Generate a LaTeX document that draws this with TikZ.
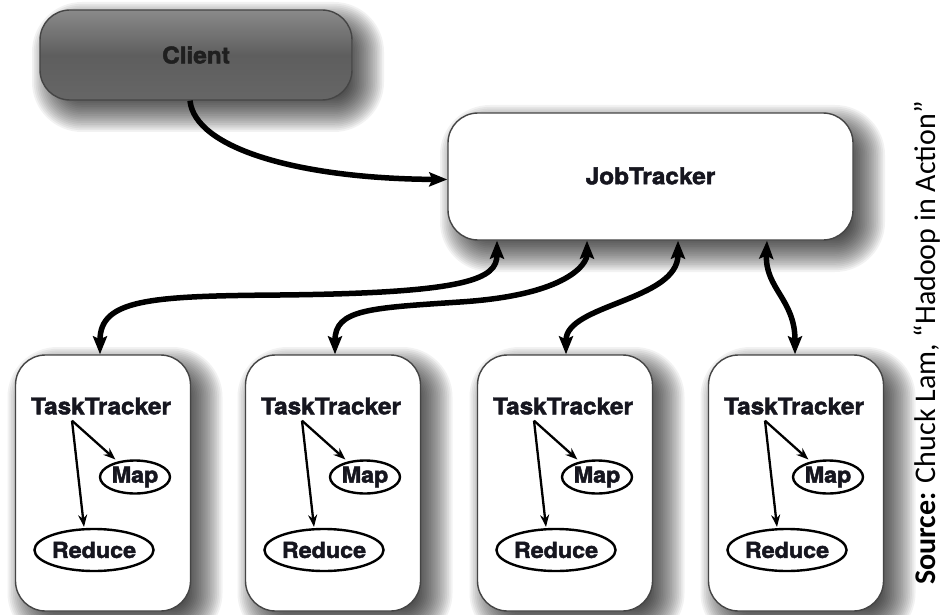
\documentclass[tikz,border=0pt]{standalone}
\usepackage{fontspec}
\setmainfont{Carlito}
\newfontfamily\heavy[FakeStretch=1.06,FakeBold=2]{TeX Gyre Heros}
\usetikzlibrary{arrows.meta,shapes.geometric}
\definecolor{ink}{HTML}{16161F}
\definecolor{edge}{HTML}{454545}
\definecolor{cltop}{HTML}{8A8A8A}
\definecolor{clmid}{HTML}{5E5E5E}
\definecolor{clbot}{HTML}{666666}
\newcommand\softshadow[4]{%
  \foreach \k in {0,...,21}{%
    \pgfmathsetmacro\ee{20-1.8*\k}%
    \pgfmathsetmacro\rr{max(30+\ee,4)}%
    \fill[black,opacity=0.05,rounded corners=\rr pt]
      (#1+12-\ee,#2+12-\ee) rectangle (#3+12+\ee,#4+12+\ee);
  }}
\tikzset{
  box/.style={draw=edge,line width=1.4pt,rounded corners=30pt,fill=white,inner sep=0pt},
  bigarrow/.style={line width=5.5pt,-{Stealth[length=18pt,width=14pt,inset=3pt]}},
  bothway/.style={line width=5.5pt,{Stealth[length=18pt,width=14pt,inset=3pt]}-{Stealth[length=18pt,width=14pt,inset=3pt]}},
  thinarrow/.style={line width=2.3pt,-{Stealth[length=12pt,width=9pt]}},
  lbl/.style={font=\heavy\bfseries\fontsize{23}{25}\selectfont,text=ink,inner sep=0pt},
  ell/.style={ellipse,draw=black,line width=2.4pt,inner sep=0pt,font=\heavy\bfseries\fontsize{22}{24}\selectfont,text=ink},
}
\begin{document}
\begin{tikzpicture}[x=1pt,y=-1pt]
\fill[white] (0,0) rectangle (942,615);
\useasboundingbox (0,0) rectangle (942,615);

% shadows
\softshadow{40}{10}{352}{100}
\softshadow{448}{113}{853}{240}
\foreach \cx in {103,333,565,796}{\softshadow{\cx-87.5}{355}{\cx+87.5}{611}}

% Client
\node[box,top color=cltop,bottom color=clbot,middle color=clmid,
      minimum width=312pt,minimum height=90pt] (cl) at (196,55) {};
\node[lbl,text=black!88] (cltext) at (196,55) {Client};

% JobTracker
\node[box,minimum width=405pt,minimum height=127pt] (jt) at (650.5,176.5) {};
\node[lbl] (jttext) at (650.5,176) {JobTracker};

% TaskTracker boxes
\foreach \i/\cx in {1/103,2/333,3/565,4/796}{
  \node[box,minimum width=175pt,minimum height=256pt] (t\i) at (\cx,483) {};
  \node[lbl] (tt\i) at (\cx-2,406) {TaskTracker};
  \node[ell,minimum width=70pt,minimum height=33pt] (m\i) at (\cx+32,477) {Map};
  \node[ell,minimum width=118pt,minimum height=42pt] (r\i) at (\cx-9,550) {Reduce};
  \coordinate (s\i) at ([xshift=-29pt,yshift=-6pt]tt\i.south);
  \draw[thinarrow,shorten >=3pt] (s\i) -- (m\i);
  \draw[thinarrow] (s\i) -- ([xshift=-10pt,yshift=1pt]r\i.north);
}

% Client -> JobTracker
\draw[bigarrow] ([xshift=-6pt]cl.south) .. controls +(5,48) and +(-148,-1) .. ([yshift=-3pt]jt.west);

% JobTracker <-> TaskTrackers
\draw[bothway] ([xshift=-3pt]t1.north) .. controls +(0,-55) and +(-130,1) .. (280,295)
  .. controls +(190,-2) and +(0,38) .. ([xshift=-153.5pt]jt.south);
\draw[bothway] ([xshift=2pt]t2.north) .. controls +(0,-45) and +(-90,6) .. (460,302)
  .. controls +(110,-7) and +(0,22) .. ([xshift=-63.5pt]jt.south);
\draw[bothway] ([xshift=1pt]t3.north) .. controls +(0,-50) and +(0,60) .. ([xshift=27.5pt]jt.south);
\draw[bothway] ([xshift=116.5pt]jt.south) .. controls +(-2,48) and +(0,-55) .. ([xshift=-1pt]t4.north);

% Source
\node[rotate=90,anchor=base,inner sep=0pt,font=\fontsize{30}{32}\selectfont,text=black] (src) at (935,343)
  {\textbf{Source:} Chuck Lam, “Hadoop in Action”};
\end{tikzpicture}
\end{document}
